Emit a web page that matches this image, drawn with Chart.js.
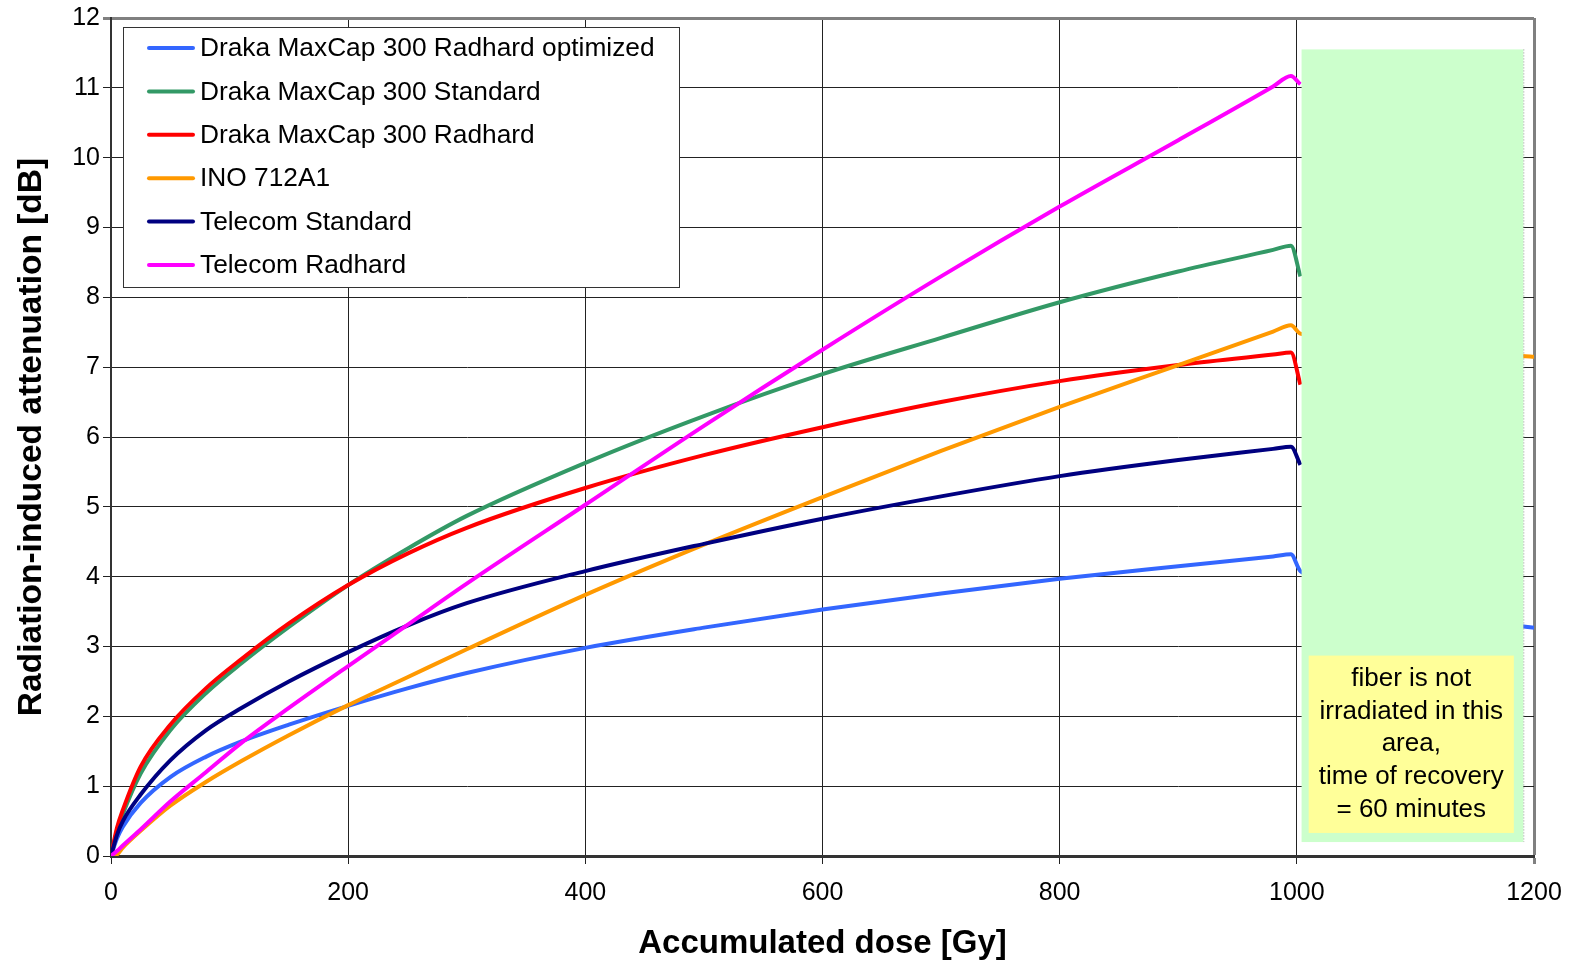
<!DOCTYPE html>
<html lang="en">
<head>
<meta charset="UTF-8">
<title>Radiation-induced attenuation</title>
<style>
  body { margin: 0; background: #fff; }
  #wrap { width: 1573px; height: 964px; }
</style>
<script src="https://cdn.jsdelivr.net/npm/chart.js"></script>
</head>
<body>
<div id="wrap"><canvas id="doseChart" width="1573" height="964"></canvas></div>
<script>
// dose points [Gy] shared by all fibres, irradiation stops at 1000 Gy
const dose = [0, 5, 10, 25, 50, 80, 110, 150, 200, 250, 300, 400, 500, 600, 700, 800, 900, 980, 995, 1003];
// after the recovery window (only two fibres are still visible there)
const doseTail = [1190, 1200];

// attenuation [dB]
const radhardOptimized = [0, 0.25, 0.42, 0.76, 1.13, 1.42, 1.64, 1.88, 2.15, 2.4, 2.62, 2.98, 3.27, 3.53, 3.76, 3.97, 4.15, 4.29, 4.32, 4.08];
const radhardOptimizedTail = [3.29, 3.27];
const maxcapStandard = [0, 0.35, 0.6, 1.18, 1.8, 2.33, 2.76, 3.28, 3.88, 4.4, 4.87, 5.63, 6.3, 6.9, 7.42, 7.93, 8.37, 8.68, 8.74, 8.3];
const maxcapRadhard = [0, 0.4, 0.66, 1.28, 1.88, 2.4, 2.82, 3.33, 3.88, 4.33, 4.7, 5.27, 5.74, 6.14, 6.5, 6.8, 7.03, 7.18, 7.21, 6.75];
const ino712 = [0, 0.02, 0.12, 0.36, 0.72, 1.06, 1.36, 1.73, 2.16, 2.56, 2.96, 3.74, 4.46, 5.14, 5.8, 6.43, 7.03, 7.51, 7.6, 7.48];
const ino712Tail = [7.16, 7.15];
const telecomStandard = [0, 0.3, 0.5, 0.88, 1.37, 1.8, 2.12, 2.5, 2.92, 3.3, 3.62, 4.08, 4.47, 4.83, 5.15, 5.44, 5.67, 5.83, 5.86, 5.6];
const telecomRadhard = [0, 0.07, 0.15, 0.38, 0.78, 1.2, 1.62, 2.12, 2.72, 3.31, 3.9, 5.03, 6.16, 7.25, 8.3, 9.3, 10.25, 11.02, 11.17, 11.05];

const seriesNames = [
  'Draka MaxCap 300 Radhard optimized',
  'Draka MaxCap 300 Standard',
  'Draka MaxCap 300 Radhard',
  'INO 712A1',
  'Telecom Standard',
  'Telecom Radhard'
];
const seriesColors = ['#3366FF', '#339966', '#FF0000', '#FF9900', '#000080', '#FF00FF'];

// shaded "no irradiation" window and its note, in data units
const recoveryZone = { from: 1004, to: 1191, bottom: 0.2, top: 11.55 };
const noteBox = { from: 1010, to: 1183, bottom: 0.33, top: 2.87 };
const noteLines = ['fiber is not', 'irradiated in this', 'area,', 'time of recovery', '= 60 minutes'];

const FONT = '"Liberation Sans", Arial, sans-serif';

function points(xs, ys) {
  return ys.map((v, i) => ({ x: xs[i], y: v }));
}

const seriesData = [
  points(dose, radhardOptimized).concat(points(doseTail, radhardOptimizedTail)),
  points(dose, maxcapStandard),
  points(dose, maxcapRadhard),
  points(dose, ino712).concat(points(doseTail, ino712Tail)),
  points(dose, telecomStandard),
  points(dose, telecomRadhard)
];

const overlay = {
  id: 'overlay',
  afterDatasetsDraw(chart) {
    const { ctx, chartArea, scales: { x, y } } = chart;
    ctx.save();

    // recovery zone
    const zx0 = x.getPixelForValue(recoveryZone.from), zx1 = x.getPixelForValue(recoveryZone.to);
    const zy0 = y.getPixelForValue(recoveryZone.top), zy1 = y.getPixelForValue(recoveryZone.bottom);
    ctx.fillStyle = '#CCFFCC';
    ctx.fillRect(zx0, zy0, zx1 - zx0, zy1 - zy0);
    ctx.strokeStyle = '#999';
    ctx.lineWidth = 1;
    ctx.setLineDash([1, 2]);
    ctx.beginPath();
    ctx.moveTo(zx1 + 0.5, zy0);
    ctx.lineTo(zx1 + 0.5, zy1);
    ctx.stroke();
    ctx.setLineDash([]);

    // note
    const nx0 = x.getPixelForValue(noteBox.from), nx1 = x.getPixelForValue(noteBox.to);
    const ny0 = y.getPixelForValue(noteBox.top), ny1 = y.getPixelForValue(noteBox.bottom);
    ctx.fillStyle = '#FFFF99';
    ctx.fillRect(nx0, ny0, nx1 - nx0, ny1 - ny0);
    ctx.fillStyle = '#000';
    ctx.font = '26px ' + FONT;
    ctx.textAlign = 'center';
    ctx.textBaseline = 'middle';
    const lh = 32.7;
    const cy = (ny0 + ny1) / 2 - lh * (noteLines.length - 1) / 2;
    noteLines.forEach((t, i) => ctx.fillText(t, (nx0 + nx1) / 2, cy + i * lh));

    // legend
    const lx = chartArea.left + 12, ly = chartArea.top + 9;
    ctx.fillStyle = '#fff';
    ctx.fillRect(lx, ly, 556, 260);
    ctx.strokeStyle = '#333';
    ctx.lineWidth = 1;
    ctx.strokeRect(lx + 0.5, ly + 0.5, 556, 260);
    ctx.textAlign = 'left';
    ctx.font = '26.3px ' + FONT;
    seriesNames.forEach((name, i) => {
      const ry = ly + 21 + i * 43.4;
      ctx.strokeStyle = seriesColors[i];
      ctx.lineWidth = 4;
      ctx.lineCap = 'round';
      ctx.beginPath();
      ctx.moveTo(lx + 26, ry);
      ctx.lineTo(lx + 70, ry);
      ctx.stroke();
      ctx.fillStyle = '#000';
      ctx.fillText(name, lx + 77, ry + 1);
    });
    ctx.restore();
  }
};

new Chart(document.getElementById('doseChart'), {
  type: 'line',
  data: {
    datasets: seriesNames.map((name, i) => ({
      label: name,
      data: seriesData[i],
      borderColor: seriesColors[i],
      backgroundColor: seriesColors[i],
      borderWidth: 4,
      pointRadius: 0,
      fill: false,
      cubicInterpolationMode: 'monotone',
      order: seriesNames.length - i
    }))
  },
  options: {
    responsive: false,
    animation: false,
    layout: { padding: { top: 18, right: 39, left: 0, bottom: 0 } },
    plugins: { legend: { display: false }, tooltip: { enabled: false } },
    scales: {
      x: {
        type: 'linear',
        min: 0,
        max: 1200,
        ticks: {
          stepSize: 200,
          color: '#000',
          font: { family: FONT, size: 25 },
          padding: 14,
          maxRotation: 0,
          callback: v => String(v)
        },
        grid: {
          color: c => (c.tick && c.tick.value === 1200 ? '#808080' : '#222'),
          lineWidth: c => (c.tick && c.tick.value === 1200 ? 3 : 1),
          tickLength: 8
        },
        border: { color: '#333', width: 3 },
        title: {
          display: true,
          text: 'Accumulated dose [Gy]',
          color: '#000',
          font: { family: FONT, size: 33, weight: 'bold' },
          padding: { top: 0, bottom: 0 }
        },
        afterFit: s => {
          s.height = 108;
          s.paddingLeft = 0;
          s.paddingRight = 0;
        }
      },
      y: {
        min: 0,
        max: 12,
        ticks: { stepSize: 1, color: '#000', font: { family: FONT, size: 25 }, padding: 3 },
        grid: {
          color: c => (c.tick && c.tick.value === 12 ? '#808080' : '#222'),
          lineWidth: c => (c.tick && c.tick.value === 12 ? 3 : 1),
          tickLength: 8
        },
        border: { color: '#333', width: 2 },
        title: {
          display: true,
          text: 'Radiation-induced attenuation [dB]',
          color: '#000',
          font: { family: FONT, size: 33.5, weight: 'bold' },
          padding: { top: 12, bottom: 0 }
        },
        afterFit: s => { s.width = 111; }
      }
    }
  },
  plugins: [overlay]
});
</script>
</body>
</html>
